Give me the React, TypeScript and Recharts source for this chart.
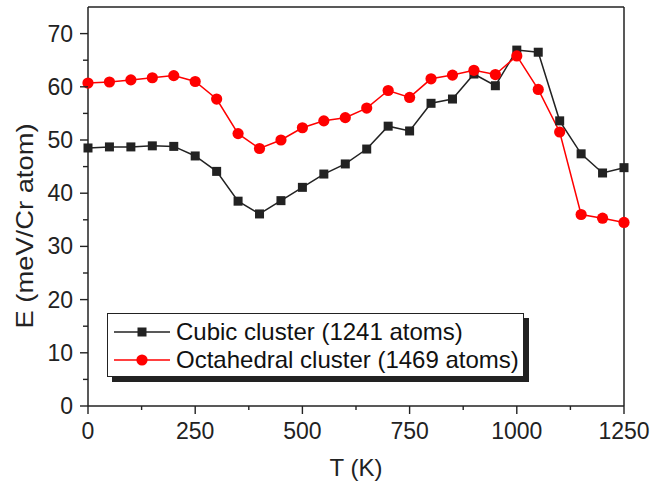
import React from 'react';
import { LineChart, Line, XAxis, YAxis, Legend, ReferenceLine, Label } from 'recharts';

const temperatures = [0, 50, 100, 150, 200, 250, 300, 350, 400, 450, 500, 550, 600, 650, 700, 750, 800, 850, 900, 950, 1000, 1050, 1100, 1150, 1200, 1250];
const cubicEnergy = [48.5, 48.7, 48.7, 48.9, 48.8, 47.0, 44.1, 38.5, 36.1, 38.6, 41.1, 43.6, 45.5, 48.3, 52.6, 51.7, 56.9, 57.7, 62.4, 60.2, 66.9, 66.5, 53.6, 47.4, 43.8, 44.8];
const octahedralEnergy = [60.7, 60.9, 61.3, 61.7, 62.1, 61.0, 57.7, 51.2, 48.4, 50.0, 52.3, 53.6, 54.2, 56.0, 59.3, 58.0, 61.5, 62.2, 63.1, 62.3, 65.8, 59.5, 51.5, 36.0, 35.3, 34.5];
const xTicks = [0, 125, 250, 375, 500, 625, 750, 875, 1000, 1125, 1250];
const yTicks = [0, 5, 10, 15, 20, 25, 30, 35, 40, 45, 50, 55, 60, 65, 70];
const cubicName = 'Cubic cluster (1241 atoms)';
const octahedralName = 'Octahedral cluster (1469 atoms)';
const xTitle = 'T (K)';
const yTitle = 'E (meV/Cr atom)';

const data = temperatures.map((t, i) => ({ T: t, cubic: cubicEnergy[i], octa: octahedralEnergy[i] }));

const FONT = '"Liberation Sans", Arial, Helvetica, sans-serif';
const INK = '#222';
const RED = '#ff0000';

const XTick = (props: any) => {
  const { x, y, payload } = props;
  const major = payload.value % 250 === 0;
  return (
    <g>
      <line x1={x} x2={x} y1={y} y2={y + (major ? 8 : 4)} stroke={INK} strokeWidth={1.4} />
      {major && (
        <text x={x} y={y + 33} textAnchor="middle" fontSize={23} fontFamily={FONT} fill="#222">
          {payload.value}
        </text>
      )}
    </g>
  );
};

const YTick = (props: any) => {
  const { x, y, payload } = props;
  const major = payload.value % 10 === 0;
  return (
    <g>
      <line x1={x} x2={x - (major ? 8 : 5)} y1={y} y2={y} stroke={INK} strokeWidth={1.4} />
      {major && (
        <text x={x - 15} y={y + 8} textAnchor="end" fontSize={23} fontFamily={FONT} fill="#222">
          {payload.value}
        </text>
      )}
    </g>
  );
};

const squareDot = (props: any) => {
  const { cx, cy, index } = props;
  if (cx == null || cy == null) return <g key={`sq-${index}`} />;
  return <rect key={`sq-${index}`} x={cx - 4.5} y={cy - 4.5} width={9} height={9} fill={INK} />;
};

const circleDot = (props: any) => {
  const { cx, cy, index } = props;
  if (cx == null || cy == null) return <g key={`ci-${index}`} />;
  return <circle key={`ci-${index}`} cx={cx} cy={cy} r={5.6} fill={RED} />;
};

const renderLegend = (props: any) => {
  const { payload } = props;
  return (
    <div
      style={{
        border: `1px solid ${INK}`,
        background: '#fff',
        boxShadow: `5px 5px 0 ${INK}`,
        width: 415,
        height: 58,
        paddingTop: 4,
        boxSizing: 'content-box',
      }}
    >
      {(payload || []).map((entry: any) => {
        const isCubic = entry.dataKey === 'cubic';
        const color = isCubic ? INK : RED;
        return (
          <div key={entry.value} style={{ display: 'flex', alignItems: 'center', height: 28 }}>
            <svg width={56} height={20} style={{ marginLeft: 6, display: 'block' }}>
              <line x1={0} x2={56} y1={10} y2={10} stroke={color} strokeWidth={1.5} />
              {isCubic ? (
                <rect x={23.5} y={5.5} width={9} height={9} fill={INK} />
              ) : (
                <circle cx={28} cy={10} r={5.6} fill={RED} />
              )}
            </svg>
            <span style={{ fontFamily: FONT, fontSize: 24, color: '#111', marginLeft: 6, whiteSpace: 'nowrap', lineHeight: '28px' }}>
              {entry.value}
            </span>
          </div>
        );
      })}
    </div>
  );
};

export default function App() {
  return (
    <div style={{ position: 'absolute', left: 0, top: 0, width: 666, height: 485, background: '#fff' }}>
      <LineChart width={666} height={485} data={data} margin={{ top: 7, right: 42, bottom: 0, left: 0 }}>
        <XAxis
          dataKey="T"
          type="number"
          domain={[0, 1250]}
          ticks={xTicks}
          interval={0}
          height={79}
          tickSize={0}
          tickMargin={0}
          tick={<XTick />}
          axisLine={{ stroke: INK, strokeWidth: 1.5 }}
          tickLine={false}
        >
          <Label
            content={(p: any) => {
              const vb = p.viewBox || { x: 88, y: 406, width: 536 };
              return (
                <text x={vb.x + vb.width / 2} y={vb.y + 70} textAnchor="middle" fontSize={24} fontFamily={FONT} fill="#222">
                  {xTitle}
                </text>
              );
            }}
          />
        </XAxis>
        <YAxis
          type="number"
          domain={[0, 75]}
          ticks={yTicks}
          interval={0}
          width={88}
          tickSize={0}
          tickMargin={0}
          tick={<YTick />}
          axisLine={{ stroke: INK, strokeWidth: 1.5 }}
          tickLine={false}
        >
          <Label
            content={(p: any) => {
              const vb = p.viewBox || { x: 0, y: 7, width: 88, height: 399 };
              const cx = vb.x + 33;
              const cy = vb.y + 219;
              return (
                <text
                  x={cx}
                  y={cy}
                  transform={`rotate(-90, ${cx}, ${cy})`}
                  textAnchor="middle"
                  fontSize={24}
                  fontFamily={FONT}
                  fill="#222"
                  textLength={205}
                  lengthAdjust="spacingAndGlyphs"
                >
                  {yTitle}
                </text>
              );
            }}
          />
        </YAxis>
        <ReferenceLine y={75} stroke={INK} strokeWidth={1.5} />
        <ReferenceLine x={1250} stroke={INK} strokeWidth={1.5} />
        <Line
          type="linear"
          dataKey="cubic"
          name={cubicName}
          stroke={INK}
          strokeWidth={1.5}
          dot={squareDot}
          activeDot={false}
          isAnimationActive={false}
        />
        <Line
          type="linear"
          dataKey="octa"
          name={octahedralName}
          stroke={RED}
          strokeWidth={1.5}
          dot={circleDot}
          activeDot={false}
          isAnimationActive={false}
        />
        <Legend
          layout="horizontal"
          verticalAlign="middle"
          align="center"
          content={renderLegend}
          wrapperStyle={{ position: 'absolute', left: 107, top: 313, width: 'auto', height: 'auto' }}
        />
      </LineChart>
    </div>
  );
}
